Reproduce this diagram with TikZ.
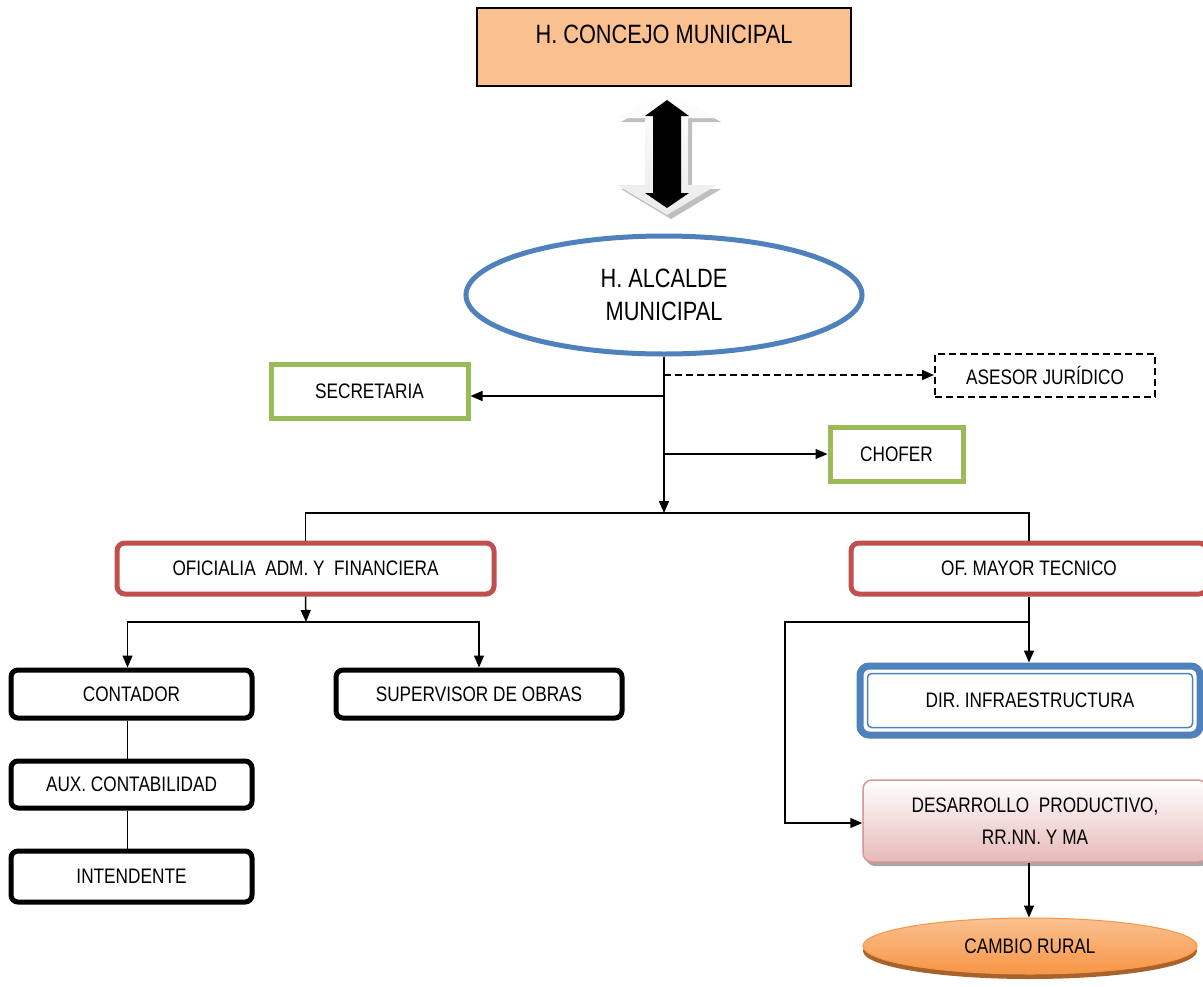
\documentclass[tikz,border=0pt]{standalone}
\usepackage{fontspec}
\setmainfont{Liberation Sans}[FakeStretch=0.82]
\usetikzlibrary{arrows.meta,shapes.geometric}
\definecolor{peach}{HTML}{FAC090}
\definecolor{mblue}{HTML}{4F81BD}
\definecolor{mgreen}{HTML}{9BBB59}
\definecolor{mred}{HTML}{C0504D}
\definecolor{pinkb}{HTML}{D99694}
\definecolor{pinkf}{HTML}{E6B9B8}
\definecolor{orng}{HTML}{F79646}
\definecolor{orngl}{HTML}{FAC090}
\definecolor{orngd}{HTML}{984807}
\newcommand\smtxt{\fontsize{21}{32}\selectfont}
\newcommand\lgtxt{\fontsize{26.5}{33}\selectfont}
\begin{document}
\begin{tikzpicture}[x=1pt,y=-1pt,
  lbl/.style={inner sep=0pt, font=\smtxt, align=center},
  greenbox/.style={draw=mgreen, line width=5pt, fill=white, inner sep=0pt, font=\smtxt},
  redbox/.style={draw=mred, line width=5pt, rounded corners=8pt, fill=white, inner sep=0pt, font=\smtxt},
  blackbox/.style={draw=black, line width=5pt, rounded corners=7pt, fill=white, inner sep=0pt, font=\smtxt, minimum width=241, minimum height=48},
  conn/.style={line width=1.5pt, -{Triangle[length=12pt,width=10pt]}},
  plainln/.style={line width=1.5pt}
]
\useasboundingbox (0,0) rectangle (1203,986);
\fill[white] (0,0) rectangle (1203,986);

% top box
\node[draw=black, line width=1.5pt, fill=peach, minimum width=374, minimum height=78, inner sep=0pt] (concejo) at (664,47) {};
\node[inner sep=0pt, font=\lgtxt] (concejotxt) at (664,34) {H. CONCEJO MUNICIPAL};

% decorative double arrow
\fill[black!25] (671,94) -- (721,122) -- (692,122) -- (692,189) -- (721,189) -- (671,219) -- (621,189) -- (649,189) -- (649,122) -- (621,122) -- cycle;
\shade[top color=white, bottom color=black!8] (667,90) -- (717,118) -- (688,118) -- (688,185) -- (717,185) -- (667,215) -- (617,185) -- (645,185) -- (645,118) -- (617,118) -- cycle;
\fill[black] (667,100) -- (689,116) -- (681,116) -- (681,193) -- (689,193) -- (667,208) -- (645,193) -- (653,193) -- (653,116) -- (645,116) -- cycle;

% alcalde
\node[ellipse, draw=mblue, line width=5pt, fill=white, minimum width=396, minimum height=118, inner sep=0pt, font=\lgtxt, align=center] (alcalde) at (664,295) {H. ALCALDE\\MUNICIPAL};

% staff
\node[draw=black, line width=2pt, dash pattern=on 7pt off 4pt, minimum width=220, minimum height=43, inner sep=0pt, font=\smtxt] (asesor) at (1045,375) {ASESOR JURÍDICO};
\node[greenbox, minimum width=197, minimum height=54] (secre) at (369.5,391) {SECRETARIA};
\node[greenbox, minimum width=133, minimum height=54] (chofer) at (896.5,454) {CHOFER};

% officers
\node[redbox, minimum width=377, minimum height=51] (ofi) at (305.5,568.5) {OFICIALIA\ \ ADM. Y\ \ FINANCIERA};
\node[redbox, minimum width=356, minimum height=51] (ofm) at (1029,568.5) {OF. MAYOR TECNICO};

% left branch
\node[blackbox] (cont) at (131.5,694) {CONTADOR};
\node[blackbox, minimum width=286] (sup) at (479,694) {SUPERVISOR DE OBRAS};
\node[blackbox, minimum height=47] (aux) at (131.5,784.5) {AUX. CONTABILIDAD};
\node[blackbox, minimum height=51] (inte) at (131.5,876.5) {INTENDENTE};

% right branch
\node[draw=mblue, line width=7pt, rounded corners=9pt, fill=white, minimum width=340, minimum height=69, inner sep=0pt, font=\smtxt] (dir) at (1030,700.5) {DIR. INFRAESTRUCTURA};
\draw[mblue, line width=1.5pt, rounded corners=4pt] ([shift={(11,11)}]dir.north west) rectangle ([shift={(-11,-11)}]dir.south east);

\fill[black!35, rounded corners=9pt] (866,784) rectangle (1210,866);
\node[draw=pinkb, line width=1.5pt, rounded corners=9pt, top color=white, bottom color=pinkf, minimum width=344, minimum height=82, inner sep=0pt, font=\smtxt, align=center] (des) at (1035,821) {DESARROLLO\ \ PRODUCTIVO,\\RR.NN. Y MA};

\fill[orngd!85] (1030,951) ellipse (167pt and 28pt);
\node[ellipse, draw=orng, line width=1pt, top color=orngl, bottom color=orng, minimum width=334, minimum height=56, inner sep=0pt, font=\smtxt] (cambio) at (1030,946) {CAMBIO RURAL};

% connectors
\coordinate (j1) at (664,513);
\coordinate (j2) at (306,622);
\coordinate (j3) at (1029,622);
\coordinate (j4) at (785,622);

\draw[conn] (alcalde.south) -- (j1);
\draw[conn, dash pattern=on 7pt off 4pt] (alcalde.south |- asesor.west) -- (asesor.west);
\draw[conn] (alcalde.south |- 0,396) -- (secre.east |- 0,396);
\draw[conn] (alcalde.south |- chofer.west) -- (chofer.west);
\draw[plainln] (ofi.north) |- (j1) -| (ofm.north);

\draw[conn] (ofi.south) -- (j2);
\draw[conn] (j2) -| ([xshift=-4pt]cont.north);
\draw[conn] (j2) -| (sup.north);
\draw[plainln] ([xshift=-4pt]cont.south) -- ([xshift=-4pt]aux.north);
\draw[plainln] ([xshift=-4pt]aux.south) -- ([xshift=-4pt]inte.north);

\draw[conn] (ofm.south) -- (ofm.south |- dir.north);
\draw[conn] (j3) -- (j4) |- (des.west |- 0,823);
\draw[conn] (des.south -| j3) -- (cambio.north -| j3);
\end{tikzpicture}
\end{document}
